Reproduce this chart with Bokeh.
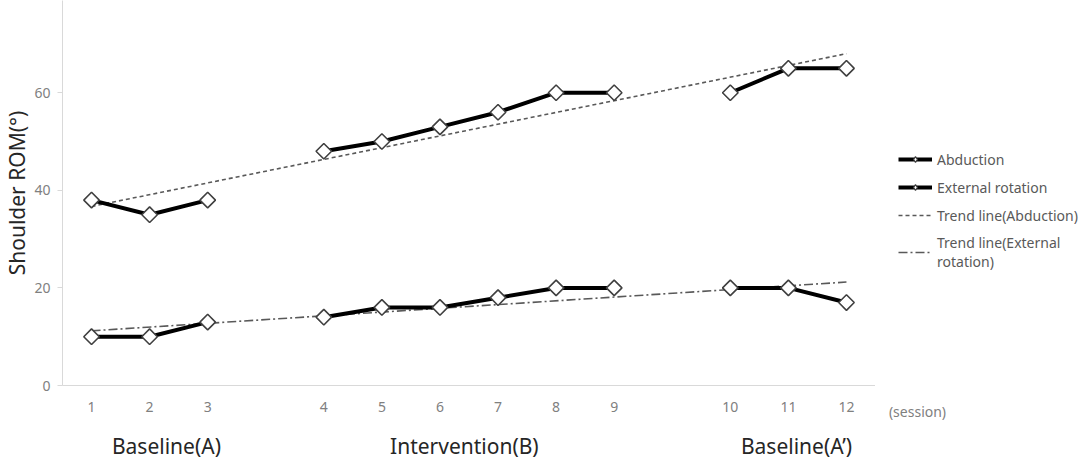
import math

from bokeh.embed import file_html
from bokeh.layouts import row
from bokeh.models import FixedTicker, Legend, LegendItem, LinearAxis, Range1d
from bokeh.plotting import figure
from bokeh.resources import INLINE

# ---- data -------------------------------------------------------------
sessions = ["1", "2", "3", "4", "5", "6", "7", "8", "9", "10", "11", "12"]
phase_of_session = ["A", "A", "A", "B", "B", "B", "B", "B", "B", "A'", "A'", "A'"]
abduction = [38, 35, 38, 48, 50, 53, 56, 60, 60, 60, 65, 65]
external_rotation = [10, 10, 13, 14, 16, 16, 18, 20, 20, 20, 20, 17]
# linear trend values at the first and last session
trend_abduction = [36.7, 68.0]
trend_external = [11.2, 21.2]
phases = ["A", "B", "A'"]
phase_names = ["Baseline(A)", "Intervention(B)", "Baseline(A\u2019)"]
y_ticks = [0, 20, 40, 60, 80]
x_unit = "(session)"
legend_labels = ["Abduction", "External rotation", "Trend line(Abduction)",
                 "Trend line(External\nrotation)"]

# ---- styling ------------------------------------------------------------
FONT = "Noto Sans"
GREY_TEXT = "#808080"
AXIS_GREY = "#d9d9d9"
DARK_TEXT = "#262626"
SERIES_LINE = dict(line_color="black", line_width=4)
MARKER = dict(marker="square", angle=math.pi / 4, size=11,
              fill_color="white", line_color="#404040", line_width=1.6)
KEY_MARKER = dict(marker="diamond", fill_color="white", line_color="#404040",
                  line_width=1.2)
TREND_AB = dict(line_color="#595959", line_width=1.6, line_dash="4 3")
TREND_ER = dict(line_color="#595959", line_width=1.6, line_dash="9 3 2 3")
TICK_LABELS = dict(major_label_text_color=GREY_TEXT, major_label_text_font=FONT,
                   major_label_text_font_size="14px", major_label_standoff=16,
                   major_tick_out=0, major_tick_in=0,
                   major_tick_line_color=None, minor_tick_line_color=None)

# session slots on the x axis; blank spacer slots open a gap between phases
slots = sessions[:3] + [None] + sessions[3:9] + [None] + sessions[9:]
slot_pos = {s: i + 0.5 for i, s in enumerate(slots) if s is not None}
x_pos = [slot_pos[s] for s in sessions]

p = figure(
    width=875,
    height=462,
    x_range=Range1d(0, len(slots)),
    y_range=Range1d(0, 78.9),
    output_backend="svg",
    toolbar_location=None,
    min_border_left=62,
    min_border_right=0,
    min_border_top=0,
    min_border_bottom=76,
)
p.outline_line_color = None
p.xgrid.visible = False
p.ygrid.visible = False

# y axis
p.yaxis.ticker = FixedTicker(ticks=y_ticks)
p.yaxis.axis_line_color = AXIS_GREY
p.yaxis.major_tick_line_color = AXIS_GREY
p.yaxis.major_tick_out = 5
p.yaxis.major_tick_in = 0
p.yaxis.minor_tick_line_color = None
p.yaxis.major_label_text_color = GREY_TEXT
p.yaxis.major_label_text_font = FONT
p.yaxis.major_label_text_font_size = "14px"
p.yaxis.major_label_standoff = 7
p.yaxis.axis_label = "Shoulder ROM(\u00b0)"
p.yaxis.axis_label_text_font = FONT
p.yaxis.axis_label_text_font_size = "21px"
p.yaxis.axis_label_text_font_style = "normal"
p.yaxis.axis_label_text_color = DARK_TEXT
p.yaxis.axis_label_standoff = 0

# session axis
xaxis = p.xaxis[0]
xaxis.ticker = FixedTicker(ticks=x_pos)
xaxis.major_label_overrides = {x: s for x, s in zip(x_pos, sessions)}
xaxis.axis_line_color = AXIS_GREY
xaxis.update(**TICK_LABELS)

# phase names on a second axis under the session numbers
phase_label_pos = [1.79, 6.92, 12.64]
phase_axis = LinearAxis(
    ticker=FixedTicker(ticks=phase_label_pos),
    major_label_overrides={pos: name for pos, name in zip(phase_label_pos, phase_names)},
    axis_line_color=None,
    major_tick_out=0,
    major_tick_in=0,
    major_tick_line_color=None,
    minor_tick_line_color=None,
    major_label_text_font=FONT,
    major_label_text_font_size="21px",
    major_label_text_color=DARK_TEXT,
    major_label_standoff=17,
)
p.add_layout(phase_axis, "below")

# trend lines
p.line([x_pos[0], x_pos[-1]], trend_abduction, **TREND_AB)
p.line([x_pos[0], x_pos[-1]], trend_external, **TREND_ER)

# series lines, broken between phases
for vals in (abduction, external_rotation):
    for ph in phases:
        xs = [x for x, q in zip(x_pos, phase_of_session) if q == ph]
        ys = [v for v, q in zip(vals, phase_of_session) if q == ph]
        p.line(xs, ys, **SERIES_LINE)

p.scatter(x_pos, abduction, **MARKER)
p.scatter(x_pos, external_rotation, **MARKER)

# ---- side column: legend and the unit of the session axis ---------------
side_width = 214
side = figure(
    width=side_width,
    height=462,
    x_range=Range1d(0, side_width),
    y_range=Range1d(0, 1),
    x_axis_type=None,
    y_axis_type=None,
    output_backend="svg",
    toolbar_location=None,
    min_border=0,
    min_border_bottom=76,
)
side.outline_line_color = None
side.xgrid.visible = False
side.ygrid.visible = False

# unit text sits on the same line as the session numbers
unit_x = 42
unit_axis = LinearAxis(ticker=FixedTicker(ticks=[unit_x]),
                       major_label_overrides={unit_x: x_unit},
                       axis_line_color=None, **TICK_LABELS)
side.add_layout(unit_axis, "below")

# off-range one-point renderers carrying the series styles for the legend keys
nan = [float("nan")]
key_ab_line = side.line(nan, nan, **SERIES_LINE)
key_ab_mark = side.scatter(nan, nan, **KEY_MARKER)
key_er_line = side.line(nan, nan, **SERIES_LINE)
key_er_mark = side.scatter(nan, nan, **KEY_MARKER)
key_tr_ab = side.line(nan, nan, **TREND_AB)
key_tr_er = side.line(nan, nan, **TREND_ER)

legend = Legend(
    items=[
        LegendItem(label=legend_labels[0], renderers=[key_ab_line, key_ab_mark]),
        LegendItem(label=legend_labels[1], renderers=[key_er_line, key_er_mark]),
        LegendItem(label=legend_labels[2], renderers=[key_tr_ab]),
        LegendItem(label=legend_labels[3], renderers=[key_tr_er]),
    ],
    location=(23, 114),
    orientation="vertical",
    glyph_width=34,
    glyph_height=14,
    label_height=20,
    spacing=8,
    padding=0,
    margin=0,
    label_standoff=5,
    background_fill_alpha=0,
    border_line_color=None,
    label_text_font=FONT,
    label_text_font_size="14px",
    label_text_color="#595959",
    label_text_line_height=1.1,
)
side.add_layout(legend, "center")

layout = row(p, side, spacing=0)
open("out.html", "w").write(file_html(layout, INLINE))
